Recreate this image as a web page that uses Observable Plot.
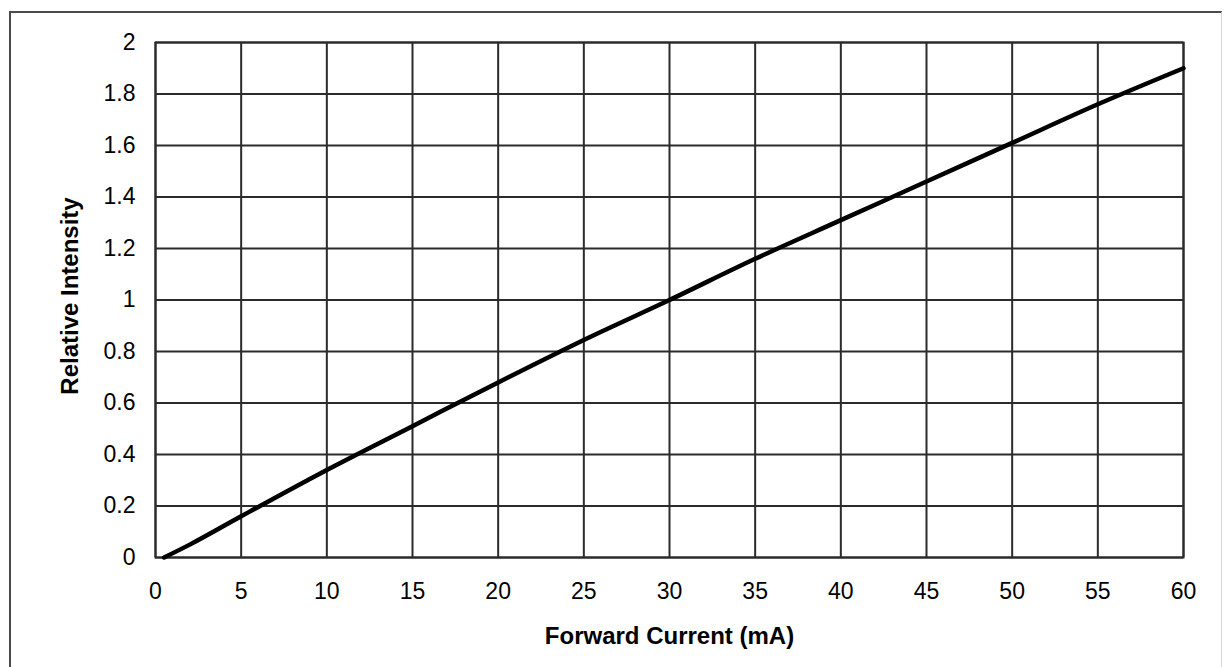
<!DOCTYPE html>
<html>
<head>
<meta charset="utf-8">
<script src="https://cdn.jsdelivr.net/npm/d3@7"></script>
<script src="https://cdn.jsdelivr.net/npm/@observablehq/plot@0.6"></script>
<style>
  html, body { margin: 0; padding: 0; background: #fff; }
  #wrap { position: relative; width: 1225px; height: 667px; overflow: hidden; background: #fff; }
  #border { position: absolute; left: 9px; top: 11px; width: 1210px; height: 700px;
            border-left: 2px solid #4a4a4a; border-top: 2px solid #4a4a4a; border-right: 1px solid #d8d8d8; }
  #chart { position: absolute; left: 0; top: 0; }
</style>
</head>
<body>
<div id="wrap">
  <div id="border"></div>
  <div id="chart"></div>
</div>
<script>
// Data
const current = [0.5, 2, 5, 10, 15, 20, 25, 30, 35, 40, 45, 50, 55, 60];           // mA
const intensity = [0, 0.05, 0.16, 0.34, 0.51, 0.68, 0.845, 1.0, 1.16, 1.31, 1.46, 1.61, 1.76, 1.9];
const xTicks = [0, 5, 10, 15, 20, 25, 30, 35, 40, 45, 50, 55, 60];
const yTicks = [0, 0.2, 0.4, 0.6, 0.8, 1, 1.2, 1.4, 1.6, 1.8, 2];
const xLabel = "Forward Current (mA)";
const yLabel = "Relative Intensity";

const data = current.map((c, i) => ({c, v: intensity[i]}));
const gridColor = "#2b2b2b";

const chart = Plot.plot({
  width: 1225,
  height: 667,
  marginLeft: 155,
  marginRight: 42,
  marginTop: 42,
  marginBottom: 110,
  x: {domain: [0, 60]},
  y: {domain: [0, 2]},
  style: {fontFamily: "'Liberation Sans', Arial, sans-serif", fontSize: "23px", color: "#000", background: "transparent"},
  marks: [
    Plot.gridX(xTicks, {stroke: gridColor, strokeOpacity: 1, strokeWidth: 2}),
    Plot.gridY(yTicks, {stroke: gridColor, strokeOpacity: 1, strokeWidth: 2}),
    Plot.frame({stroke: gridColor, strokeWidth: 2}),
    Plot.axisX(xTicks, {tickSize: 0, tickPadding: 25, label: null, fontSize: 23, tickFormat: d => String(d)}),
    Plot.axisY(yTicks, {tickSize: 0, tickPadding: 20, label: null, fontSize: 23, tickFormat: d => String(d)}),
    Plot.line(data, {x: "c", y: "v", stroke: "#000", strokeWidth: 4.5, curve: "monotone-x"}),
    Plot.text([xLabel], {text: d => d, frameAnchor: "bottom", dy: 79, lineAnchor: "middle", textAnchor: "middle",
      fontWeight: "bold", fontSize: 24, fill: "#000"}),
    Plot.text([yLabel], {text: d => d, frameAnchor: "left", dx: -85, dy: -4, rotate: -90, lineAnchor: "middle", textAnchor: "middle",
      fontWeight: "bold", fontSize: 24, fill: "#000"})
  ]
});
document.getElementById("chart").appendChild(chart);
</script>
</body>
</html>
